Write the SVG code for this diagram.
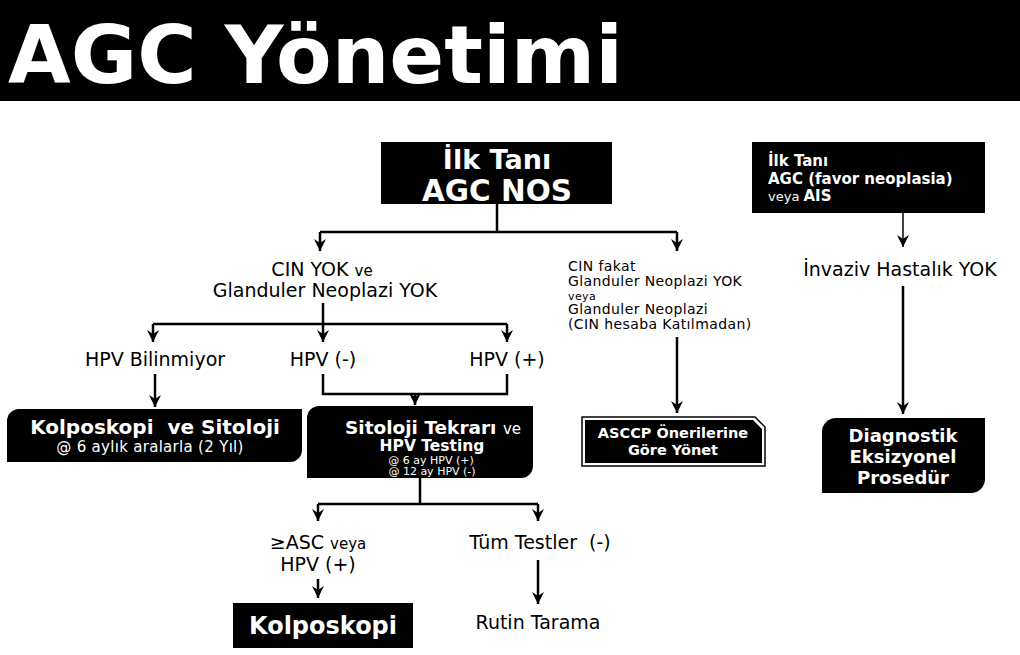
<svg xmlns="http://www.w3.org/2000/svg" width="1020" height="655" viewBox="0 0 1020 655">
  <style>
    .ln{stroke:#000;stroke-width:2.5;fill:none}
    .ar{stroke:#000;stroke-width:2.5;fill:none;marker-end:url(#ah)}
    .blk{fill:#000}
    .lbl{font-family:"DejaVu Sans",Verdana,sans-serif;font-size:19px;fill:#000;text-anchor:middle}
    .sm{font-family:"DejaVu Sans",Verdana,sans-serif;font-size:14px;letter-spacing:0.4px;fill:#000}
    .wt{font-family:"DejaVu Sans",Verdana,sans-serif;font-weight:bold;fill:#fff;text-anchor:middle}
    .st{text-anchor:start}
    .wr{font-weight:normal}
  </style>
  <defs>
    <marker id="ah" markerUnits="userSpaceOnUse" markerWidth="14" markerHeight="14" refX="12" refY="6" orient="auto">
      <path d="M0,0 L12,6 L0,12 L4,6 Z" fill="#000"/>
    </marker>
  </defs>

  <rect width="1020" height="655" fill="#fff"/>

  <!-- title bar -->
  <g id="title">
    <rect x="0" y="0" width="1020" height="101" class="blk"/>
    <text x="8" y="83" font-family="'DejaVu Sans',Verdana,sans-serif" font-weight="bold" font-size="81" fill="#fff">AGC Yönetimi</text>
  </g>

  <!-- connectors -->
  <g id="connectors">
    <path class="ln" d="M497,204 V232 M320,232 H677"/>
    <path class="ar" d="M320,232 V251"/>
    <path class="ar" d="M677,232 V251"/>

    <path class="ln" d="M323,303 V324 M153,324 H507"/>
    <path class="ar" d="M153,324 V342"/>
    <path class="ar" d="M323,324 V342"/>
    <path class="ar" d="M507,324 V342"/>

    <path class="ar" d="M155,374 V407"/>
    <path class="ln" d="M323,374 V394 H507 V374"/>
    <path class="ar" d="M415,394 V405"/>

    <path class="ln" d="M420,478 V504 M318,504 H538"/>
    <path class="ar" d="M318,504 V521"/>
    <path class="ar" d="M538,504 V521"/>
    <path class="ar" d="M318,579 V598"/>
    <path class="ar" d="M538,560 V604"/>

    <path class="ar" d="M677,337 V413"/>
    <path class="ar" d="M903,213 V247" style="stroke-width:1.5"/>
    <path class="ar" d="M903,286 V414"/>
  </g>

  <!-- initial diagnosis AGC NOS -->
  <g id="n-agc-nos">
    <rect x="381" y="142" width="231" height="62" class="blk"/>
    <text class="wt" x="497" y="169" font-size="27">İlk Tanı</text>
    <text class="wt" x="497" y="201" font-size="29.5">AGC NOS</text>
  </g>

  <g id="n-cin-yok">
    <text class="lbl" x="322" y="276">CIN YOK <tspan font-size="15">ve</tspan></text>
    <text class="lbl" x="325" y="297">Glanduler Neoplazi YOK</text>
  </g>

  <g id="n-cin-fakat">
    <text class="sm" x="568" y="271">CIN fakat</text>
    <text class="sm" x="568" y="286">Glanduler Neoplazi YOK</text>
    <text class="sm" x="568" y="300" style="font-size:11px">veya</text>
    <text class="sm" x="568" y="314">Glanduler Neoplazi</text>
    <text class="sm" x="568" y="329">(CIN hesaba Katılmadan)</text>
  </g>

  <g id="n-hpv-unknown"><text class="lbl" x="155" y="366">HPV Bilinmiyor</text></g>
  <g id="n-hpv-neg"><text class="lbl" x="323" y="366">HPV (-)</text></g>
  <g id="n-hpv-pos"><text class="lbl" x="507" y="366">HPV (+)</text></g>

  <g id="n-kolpo-sito">
    <path class="blk" d="M19,409 H302 V450 A12,12 0 0 1 290,462 H7 V421 A12,12 0 0 1 19,409 Z"/>
    <text class="wt" x="155" y="434" font-size="20" xml:space="preserve">Kolposkopi  ve Sitoloji</text>
    <text class="wt wr" x="150" y="452" font-size="15" letter-spacing="0.3">@ 6 aylık aralarla (2 Yıl)</text>
  </g>

  <g id="n-sito-tekrar">
    <path class="blk" d="M319,406 H533 V466 A12,12 0 0 1 521,478 H307 V418 A12,12 0 0 1 319,406 Z"/>
    <text class="wt" x="433" y="434" font-size="18.5">Sitoloji Tekrarı <tspan class="wr" font-size="15">ve</tspan></text>
    <text class="wt" x="432" y="451" font-size="15.5">HPV Testing</text>
    <text class="wt wr" x="431" y="464" font-size="11">@ 6 ay HPV (+)</text>
    <text class="wt wr" x="432" y="475" font-size="11">@ 12 ay HPV (-)</text>
  </g>

  <g id="n-asccp">
    <path d="M582,417 H755 L765,427 V466 H582 Z" fill="#fff" stroke="#000" stroke-width="1.5"/>
    <path class="blk" d="M585,420 H753 L762,429 V463 H585 Z"/>
    <text class="wt" x="673" y="438" font-size="14.5">ASCCP Önerilerine</text>
    <text class="wt" x="673" y="455" font-size="14.5">Göre Yönet</text>
  </g>

  <g id="n-agc-neo">
    <rect x="752" y="142" width="233" height="71" class="blk"/>
    <text class="wt st" x="768" y="166" font-size="15">İlk Tanı</text>
    <text class="wt st" x="768" y="184" font-size="15">AGC (favor neoplasia)</text>
    <text class="wt st" x="768" y="201" font-size="15"><tspan class="wr" font-size="13">veya </tspan>AIS</text>
  </g>

  <g id="n-invaziv"><text class="lbl" x="900" y="276">İnvaziv Hastalık YOK</text></g>

  <g id="n-diagnostik">
    <path class="blk" d="M836,418 H985 V479 A14,14 0 0 1 971,493 H822 V432 A14,14 0 0 1 836,418 Z"/>
    <text class="wt" x="903" y="442" font-size="18">Diagnostik</text>
    <text class="wt" x="903" y="463" font-size="18">Eksizyonel</text>
    <text class="wt" x="903" y="484" font-size="18">Prosedür</text>
  </g>

  <g id="n-asc">
    <text class="lbl" x="318" y="549">≥ASC <tspan font-size="15">veya</tspan></text>
    <text class="lbl" x="318" y="571">HPV (+)</text>
  </g>

  <g id="n-tum"><text class="lbl" x="540" y="549" xml:space="preserve">Tüm Testler  (-)</text></g>

  <g id="n-kolposkopi">
    <rect x="233" y="603" width="180" height="45" class="blk"/>
    <text class="wt" x="323" y="634" font-size="24">Kolposkopi</text>
  </g>

  <g id="n-rutin"><text class="lbl" x="538" y="629">Rutin Tarama</text></g>
</svg>
